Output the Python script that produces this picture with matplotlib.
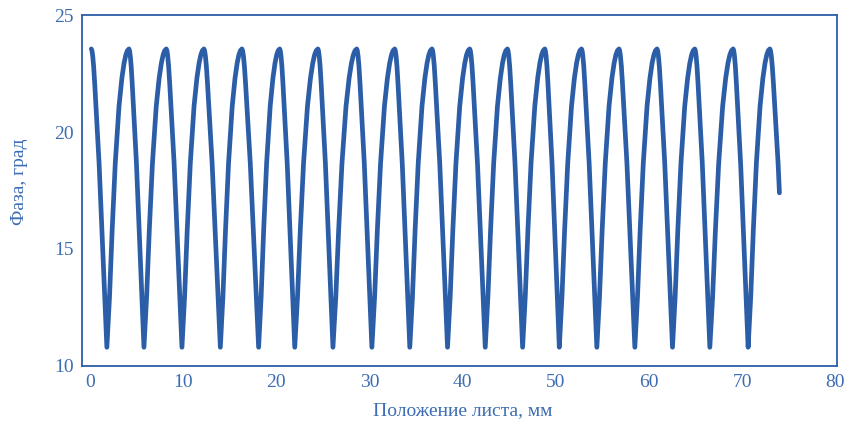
import matplotlib
matplotlib.use("Agg")
import matplotlib.pyplot as plt
import numpy as np

# ---- data ----
start_x, start_y = 0.13, 23.55
peak_x = [4.17, 8.18, 12.22, 16.30, 20.35, 24.45, 28.62, 32.70, 36.70, 40.75,
          44.80, 48.81, 52.75, 56.78, 60.86, 64.91, 69.03, 72.97]
trough_x = [1.80, 5.78, 9.86, 13.98, 18.09, 21.97, 26.07, 30.25, 34.32, 38.37,
            42.42, 46.43, 50.37, 54.40, 58.48, 62.52, 66.53, 70.64]
peak_y = 23.55
trough_y = 10.8
end_x, end_y = 74.0, 17.4
# shape of a falling branch (fraction of branch, value)
fall_frac = [0.0, 0.04, 0.09, 0.15, 0.22, 0.30, 0.50, 0.68, 0.86, 0.95, 1.0]
fall_val = [23.55, 23.48, 23.25, 22.80, 22.05, 21.10, 18.66, 15.81, 12.96, 11.54, 10.8]
# shape of a rising branch (fraction of branch, value)
rise_frac = [0.0, 0.04, 0.12, 0.24, 0.38, 0.55, 0.68, 0.78, 0.86, 0.93, 1.0]
rise_val = [10.8, 11.54, 12.96, 15.81, 18.66, 21.10, 22.30, 22.95, 23.30, 23.48, 23.55]

xticks = [0, 10, 20, 30, 40, 50, 60, 70, 80]
yticks = [10, 15, 20, 25]

# ---- build polyline from the read points ----
xs, ys = [], []
prev_peak = start_x
for i in range(len(trough_x)):
    t = trough_x[i]
    for f, v in zip(fall_frac, fall_val):
        xs.append(prev_peak + f * (t - prev_peak)); ys.append(v)
    p = peak_x[i]
    for f, v in zip(rise_frac[1:], rise_val[1:]):
        xs.append(t + f * (p - t)); ys.append(v)
    prev_peak = p
# final partial fall
for f, v in zip(fall_frac[1:], fall_val[1:]):
    if v < end_y:
        break
    xs.append(prev_peak + f * (end_x - prev_peak) / 0.58); ys.append(v)
xs.append(end_x); ys.append(end_y)

blue = '#2c5ea8'
txt = '#3d6db3'

fig = plt.figure(figsize=(8.53, 4.23), dpi=100)
ax = fig.add_axes([0.0958, 0.1348, 0.8851, 0.8297])
ax.plot(xs, ys, color=blue, lw=3.4, solid_joinstyle='round', solid_capstyle='round')
ax.set_xlim(-0.9, 80.15)
ax.set_ylim(10, 25)
ax.set_xticks(xticks)
ax.set_yticks(yticks)
for s in ax.spines.values():
    s.set_color(blue)
    s.set_linewidth(1.3)
ax.tick_params(length=0, pad=6, labelcolor=txt, labelsize=14)
for lab in ax.get_xticklabels() + ax.get_yticklabels():
    lab.set_family('Liberation Serif')
ax.set_xlabel('Положение листа, мм', family='Liberation Serif', fontsize=14, color=txt)
ax.set_ylabel('Фаза, град', family='Liberation Serif', fontsize=14, color=txt)
ax.xaxis.set_label_coords(0.504, -0.103)
ax.yaxis.set_label_coords(-0.071, 0.524)
fig.savefig('out.png', dpi=100)
